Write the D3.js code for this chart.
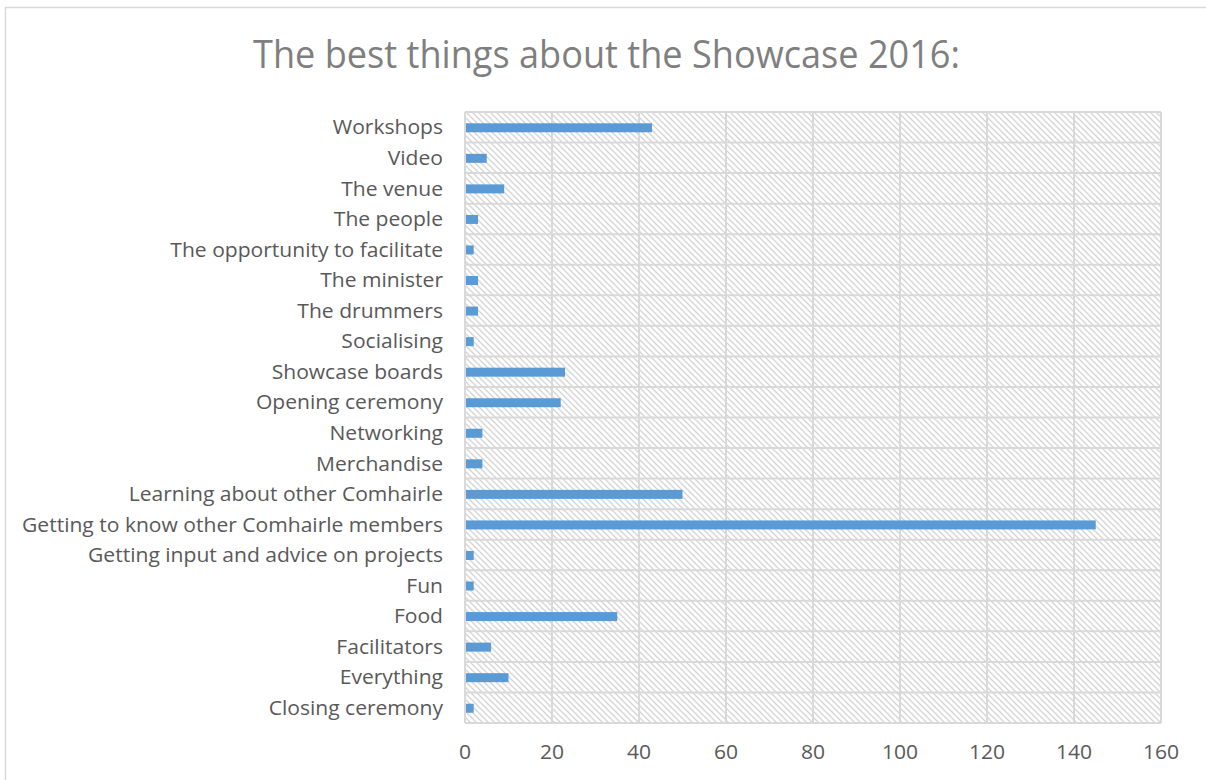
<!DOCTYPE html>
<html>
<head>
<meta charset="utf-8">
<script src="https://cdn.jsdelivr.net/npm/d3@7"></script>
<style>
  html, body { margin: 0; padding: 0; background: #fff; }
  svg { display: block; }
</style>
</head>
<body>
<svg id="chart" width="1206" height="780"></svg>
<script>
// Responses, listed top to bottom as shown
const categories = [
  "Workshops",
  "Video",
  "The venue",
  "The people",
  "The opportunity to facilitate",
  "The minister",
  "The drummers",
  "Socialising",
  "Showcase boards",
  "Opening ceremony",
  "Networking",
  "Merchandise",
  "Learning about other Comhairle",
  "Getting to know other Comhairle members",
  "Getting input and advice on projects",
  "Fun",
  "Food",
  "Facilitators",
  "Everything",
  "Closing ceremony"
];
const counts = [43, 5, 9, 3, 2, 3, 3, 2, 23, 22, 4, 4, 50, 145, 2, 2, 35, 6, 10, 2];
const xTicks = [0, 20, 40, 60, 80, 100, 120, 140, 160];
const title = "The best things about the Showcase 2016:";

const svg = d3.select("#chart");
const m = { left: 465, right: 1161, top: 112, bottom: 723 };
const FONT = "'Open Sans', 'Liberation Sans', sans-serif";

// hatched plot background
const defs = svg.append("defs");
const P = 6;
const pat = defs.append("pattern")
  .attr("id", "hatch")
  .attr("patternUnits", "userSpaceOnUse")
  .attr("width", P).attr("height", P);
pat.append("rect").attr("width", P).attr("height", P).attr("fill", "#fff");
pat.append("path")
  .attr("d", `M-1,-1 L${P + 1},${P + 1} M-1,${P - 1} L1,${P + 1} M${P - 1},-1 L${P + 1},1`)
  .attr("stroke", "#d4d4d4").attr("stroke-width", 1.3);

// chart frame
svg.append("rect")
  .attr("x", 5.5).attr("y", 7.5)
  .attr("width", 1220).attr("height", 800)
  .attr("fill", "#fff").attr("stroke", "#d9d9d9").attr("stroke-width", 1.5);

const x = d3.scaleLinear().domain([0, 160]).range([m.left, m.right]);
const y = d3.scaleBand().domain(categories).range([m.top, m.bottom]).paddingInner(0).paddingOuter(0);

svg.append("rect")
  .attr("x", m.left).attr("y", m.top)
  .attr("width", m.right - m.left).attr("height", m.bottom - m.top)
  .attr("fill", "url(#hatch)");

// grid: vertical at ticks, horizontal between categories
const grid = svg.append("g").attr("stroke", "#d9d9d9").attr("stroke-width", 2);
grid.selectAll("line.v").data(xTicks).join("line")
  .attr("class", "v")
  .attr("x1", d => x(d)).attr("x2", d => x(d))
  .attr("y1", m.top).attr("y2", m.bottom);
const edges = categories.map(c => y(c)).concat([m.bottom]);
grid.selectAll("line.h").data(edges).join("line")
  .attr("class", "h")
  .attr("x1", m.left).attr("x2", m.right)
  .attr("y1", d => d).attr("y2", d => d);

// bars
const barH = 9;
svg.append("g").selectAll("rect").data(categories).join("rect")
  .attr("x", x(0) + 1)
  .attr("y", d => y(d) + y.bandwidth() / 2 - barH / 2 + 0.5)
  .attr("width", (d, i) => x(counts[i]) - x(0) - 1)
  .attr("height", barH)
  .attr("fill", "#5b9bd5");

// category labels
const catLabels = svg.append("g").selectAll("text").data(categories).join("text")
  .attr("x", 443)
  .attr("y", d => y(d) + y.bandwidth() / 2)
  .attr("dy", "0.36em")
  .attr("text-anchor", "end")
  .attr("font-family", FONT)
  .attr("font-size", 20)
  .attr("fill", "#595959")
  .text(d => d);

// narrow the sans face to a Calibri-like width
const longest = catLabels.filter(d => d === "Getting to know other Comhairle members").node();
const ratio = 421 / longest.getComputedTextLength();
catLabels.each(function () {
  const w = this.getComputedTextLength();
  d3.select(this).attr("textLength", w * ratio).attr("lengthAdjust", "spacingAndGlyphs");
});

// x axis tick labels
const tickLabels = svg.append("g").selectAll("text").data(xTicks).join("text")
  .attr("x", d => x(d))
  .attr("y", 752)
  .attr("dy", "0.36em")
  .attr("text-anchor", "middle")
  .attr("font-family", FONT)
  .attr("font-size", 20)
  .attr("fill", "#595959")
  .text(d => d);
tickLabels.each(function () {
  const w = this.getComputedTextLength();
  d3.select(this).attr("textLength", w * ratio).attr("lengthAdjust", "spacingAndGlyphs");
});

// title
svg.append("text")
  .attr("x", 606.5).attr("y", 68)
  .attr("text-anchor", "middle")
  .attr("font-family", FONT)
  .attr("font-size", 39)
  .attr("fill", "#7f7f7f")
  .attr("textLength", 707).attr("lengthAdjust", "spacingAndGlyphs")
  .text(title);
</script>
</body>
</html>
